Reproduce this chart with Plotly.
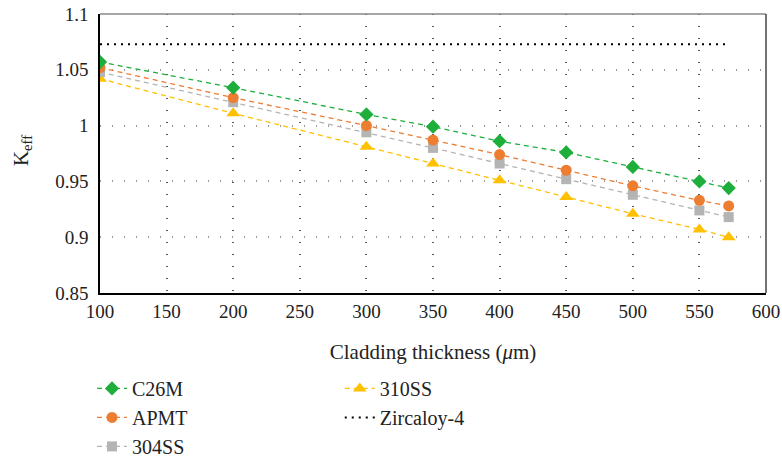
import plotly.graph_objects as go

thickness = [100, 200, 300, 350, 400, 450, 500, 550, 572]
c26m = [1.057, 1.034, 1.010, 0.999, 0.986, 0.976, 0.963, 0.950, 0.944]
apmt = [1.052, 1.025, 1.000, 0.987, 0.974, 0.960, 0.946, 0.933, 0.928]
ss304 = [1.048, 1.021, 0.994, 0.980, 0.966, 0.952, 0.938, 0.924, 0.918]
ss310 = [1.042, 1.011, 0.981, 0.966, 0.951, 0.936, 0.921, 0.907, 0.900]
zirc_x = [100, 572]
zirc_y = [1.0728, 1.0728]

FONT = "Liberation Serif"
FS_TICK = 19
FS_TITLE = 21
FS_LEG = 20
fig = go.Figure()

def add(name, y, color, symbol, size, legend, rank):
    fig.add_trace(go.Scatter(
        x=thickness, y=y, name=name, mode="lines+markers",
        line=dict(color=color, width=1.3, dash="5px,4px"),
        marker=dict(color=color, symbol=symbol, size=size),
        legend=legend, legendrank=rank))

add("310SS", ss310, "#FFC000", "triangle-up", 12, "legend2", 4)
add("304SS", ss304, "#B4B4B4", "square", 10, "legend", 3)
add("APMT", apmt, "#ED7D31", "circle", 11, "legend", 2)
add("C26M", c26m, "#1DAE3C", "diamond", 11, "legend", 1)
fig.add_trace(go.Scatter(
    x=zirc_x, y=zirc_y, name="Zircaloy-4", mode="lines",
    line=dict(color="black", width=2, dash="2px,5px"), legend="legend2", legendrank=5))

legend_common = dict(font=dict(family=FONT, size=FS_LEG, color="#222"),
                     bgcolor="rgba(0,0,0,0)", yanchor="top", xanchor="left",
                     orientation="v", tracegroupgap=0, traceorder="normal",
                     itemwidth=30)

fig.update_layout(
    width=782, height=459,
    margin=dict(l=100, r=16, t=14, b=166, autoexpand=False),
    plot_bgcolor="white", paper_bgcolor="white",
    font=dict(family=FONT, size=FS_TICK, color="#222"),
    legend=dict(x=-0.012, y=-0.272, **legend_common),
    legend2=dict(x=0.36, y=-0.272, **legend_common),
    xaxis=dict(range=[100, 600], dtick=50, tick0=100,
               showline=True, linecolor="black", linewidth=1.5,
               showgrid=True, gridcolor="#555", griddash="1px,11px", gridwidth=1.5,
               ticks="", zeroline=False, ticklabeloverflow="allow",
               title=dict(text="Cladding thickness (<i>μ</i>m)", standoff=24,
                          font=dict(family=FONT, size=FS_TITLE))),
    yaxis=dict(range=[0.85, 1.1], dtick=0.05, tick0=0.85,
               showline=True, linecolor="black", linewidth=1.5,
               showgrid=True, gridcolor="#999", griddash="1px,11px", gridwidth=1.5,
               ticks="", zeroline=False, ticklabelstandoff=6, ticklabeloverflow="allow"),
)

fig.add_annotation(text="K<sub>eff</sub>", xref="paper", yref="paper",
                   x=-0.118, y=0.51, textangle=-90, showarrow=False,
                   xanchor="center", yanchor="middle",
                   font=dict(family=FONT, size=FS_TITLE, color="#222"))

# top and right frame
fig.add_shape(type="line", xref="paper", yref="paper", x0=0, x1=1, y0=1, y1=1,
              line=dict(color="#888", width=1.5))
fig.add_shape(type="line", xref="paper", yref="paper", x0=1, x1=1, y0=0, y1=1,
              line=dict(color="#444", width=1.5))

fig.write_html("out.html", config={"displayModeBar": False},
               post_script="document.body.style.margin='0';document.body.style.overflow='hidden';")
